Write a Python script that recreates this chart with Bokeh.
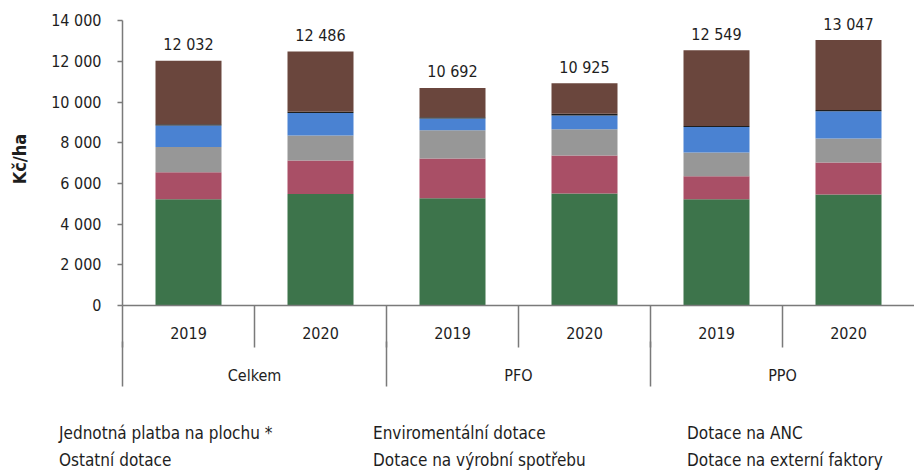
from bokeh.plotting import figure
from bokeh.models import (Range1d, LinearAxis, FixedTicker, Legend, LegendItem, ColumnDataSource,
                          CDSView, IndexFilter)
from bokeh.layouts import column
from bokeh.core.properties import value
from bokeh.embed import file_html
from bokeh.resources import INLINE

# ---- data ----
groups = ["Celkem", "PFO", "PPO"]
years = ["2019", "2020"]
jednotna = [5216, 5475, 5265, 5510, 5216, 5461]
enviro = [1338, 1652, 1960, 1863, 1142, 1568]
anc = [1240, 1226, 1388, 1289, 1161, 1177]
vyrobni = [1049, 1108, 573, 671, 1256, 1338]
externi = [60, 60, 70, 90, 50, 60]
ostatni = [3129, 2965, 1436, 1502, 3724, 3443]
y_ticks = [0, 2000, 4000, 6000, 8000, 10000, 12000, 14000]

series = ["jednotna", "enviro", "anc", "vyrobni", "externi", "ostatni"]
labels = ["Jednotná platba na plochu *", "Enviromentální dotace", "Dotace na ANC",
          "Dotace na výrobní spotřebu", "Dotace na externí faktory", "Ostatní dotace"]
colors = ["#3d744b", "#a94f66", "#979797", "#4a82d2", "#1e1e1e", "#6a463d"]

FONT = "DejaVu Sans Condensed"
TXT = "#1e1e1e"
AX = "#7a7a7a"

factors = [(g, y) for g in groups for y in years]
n = len(factors)
xpos = [i + 0.5 for i in range(n)]          # slot centres on the category axis
totals = [sum(v) for v in zip(jednotna, enviro, anc, vyrobni, externi, ostatni)]
total_labels = [f"{t:,}".replace(",", " ") for t in totals]

src = ColumnDataSource(dict(x=xpos, jednotna=jednotna, enviro=enviro, anc=anc,
                            vyrobni=vyrobni, externi=externi, ostatni=ostatni,
                            total=totals, total_label=total_labels))

p = figure(x_range=Range1d(0, n), y_range=Range1d(0, 14400), width=914, height=404,
           output_backend="svg", toolbar_location=None, x_axis_location=None,
           min_border_left=122, min_border_right=0, min_border_top=12, min_border_bottom=99)
p.outline_line_color = None
p.xgrid.visible = False
p.ygrid.visible = False
p.frame_align = False

rs = p.vbar_stack(series, x="x", width=0.5, source=src, color=colors, line_color=None)

p.text(x="x", y="total", text="total_label", source=src, text_align="center",
       text_baseline="alphabetic", y_offset=-16, text_font=value(FONT),
       text_font_size="16px", text_color=TXT)

# y axis
ya = p.yaxis[0]
ya.ticker = FixedTicker(ticks=y_ticks)
ya.major_label_overrides = {t: f"{t:,}".replace(",", " ") for t in y_ticks}
ya.bounds = (0, 14000)
ya.major_tick_out = 5
ya.major_tick_in = 0
ya.minor_tick_line_color = None
ya.axis_line_color = AX
ya.axis_line_width = 1.5
ya.major_tick_line_color = AX
ya.major_tick_line_width = 1.5
ya.major_label_standoff = 16
ya.major_label_text_font = FONT
ya.major_label_text_font_size = "16px"
ya.major_label_text_color = TXT
ya.axis_label = "Kč/ha"
ya.axis_label_text_font = FONT
ya.axis_label_text_font_style = "bold"
ya.axis_label_text_font_size = "18px"
ya.axis_label_text_color = TXT
ya.axis_label_standoff = 18

# two-level category axis: years (with slot separators) and groups (with group separators)
group_pos = [2 * i + 1.0 for i in range(len(groups))]
bounds_all = [float(i) for i in range(n)]
bounds_grp = [float(2 * i) for i in range(len(groups))]

axA = LinearAxis(ticker=FixedTicker(ticks=xpos, minor_ticks=bounds_all),
                 major_label_overrides={pos: factors[i][1] for i, pos in enumerate(xpos)},
                 major_tick_out=0, major_tick_in=0, minor_tick_out=42, minor_tick_in=0,
                 major_tick_line_color=None,
                 minor_tick_line_color=AX, minor_tick_line_width=1.5,
                 axis_line_color=AX, axis_line_width=1.5,
                 major_label_standoff=-21, major_label_text_font=FONT,
                 major_label_text_font_size="16px", major_label_text_color=TXT)
axB = LinearAxis(ticker=FixedTicker(ticks=group_pos, minor_ticks=bounds_grp),
                 major_label_overrides={pos: groups[i] for i, pos in enumerate(group_pos)},
                 major_tick_out=0, major_tick_in=0, minor_tick_out=45, minor_tick_in=0,
                 major_tick_line_color=None,
                 minor_tick_line_color=AX, minor_tick_line_width=1.5,
                 axis_line_color=None,
                 major_label_standoff=-21, major_label_text_font=FONT,
                 major_label_text_font_size="16px", major_label_text_color=TXT)
p.add_layout(axA, "below")
p.add_layout(axB, "below")

# legend strip below the chart: key glyphs share the series styling; a view with no
# selected rows keeps the strip itself empty
pl = figure(x_range=Range1d(0, n), y_range=Range1d(-2e6, -1e6), width=914, height=66,
            output_backend="svg", toolbar_location=None, x_axis_location=None,
            y_axis_location=None, min_border=0, outline_line_color=None)
pl.xgrid.visible = False
pl.ygrid.visible = False
pl.frame_align = False
rl = pl.vbar_stack(series, x="x", width=0.5, source=src, color=colors, line_color=None,
                   view=CDSView(filter=IndexFilter(indices=[])))

order = [0, 1, 2, 5, 3, 4]
legend = Legend(items=[LegendItem(label=labels[i], renderers=[rl[i]]) for i in order],
                ncols=3, orientation="horizontal", location=(43, 0),
                glyph_width=13, glyph_height=13, label_standoff=3, label_height=18,
                label_width=291, spacing=7, padding=0, margin=0,
                border_line_color=None, background_fill_alpha=0,
                label_text_font=FONT, label_text_font_size="17px", label_text_color=TXT)
pl.add_layout(legend, "center")

open("out.html", "w").write(file_html(column(p, pl, spacing=0), INLINE))
